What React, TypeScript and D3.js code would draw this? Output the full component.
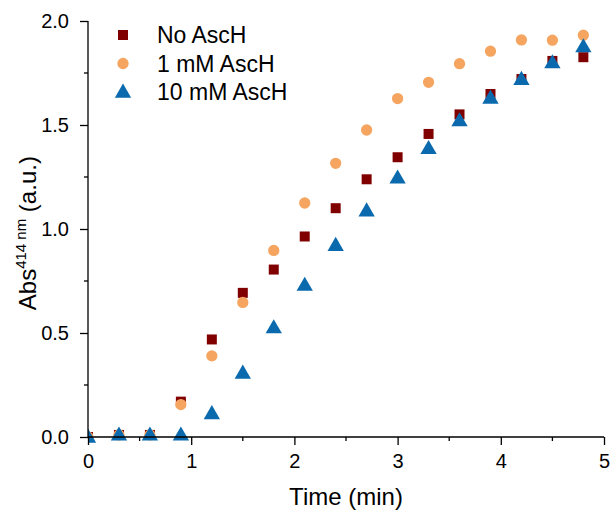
import * as d3 from "d3";
import { useEffect, useRef } from "react";

const times = [0, 0.3, 0.6, 0.9, 1.2, 1.5, 1.8, 2.1, 2.4, 2.7, 3.0, 3.3, 3.6, 3.9, 4.2, 4.5, 4.8];
const noAscH = [0, 0.01, 0.01, 0.17, 0.469, 0.693, 0.805, 0.964, 1.1, 1.239, 1.345, 1.457, 1.551, 1.649, 1.721, 1.808, 1.826];
const asc1mM = [0, 0.01, 0.01, 0.156, 0.39, 0.647, 0.897, 1.125, 1.316, 1.476, 1.627, 1.705, 1.795, 1.855, 1.909, 1.908, 1.932];
const asc10mM = [0, 0.01, 0.01, 0.01, 0.113, 0.308, 0.526, 0.73, 0.922, 1.088, 1.246, 1.388, 1.521, 1.63, 1.72, 1.8, 1.877];

const seriesNames = ["No AscH", "1 mM AscH", "10 mM AscH"];
const seriesColors = ["#800000", "#f5a55f", "#0a6aad"];
const xTicks = [0, 1, 2, 3, 4, 5];
const yTicks = [0, 0.5, 1.0, 1.5, 2.0];

export default function App() {
  const svgRef = useRef(null);
  const width = 614;
  const height = 514;
  const marginLeft = 88;
  const marginRight = 10;
  const marginTop = 21;
  const marginBottom = 77;

  useEffect(() => {
    const svg = d3.select(svgRef.current);
    svg.selectAll("*").remove();

    const x = d3.scaleLinear().domain([0, 5]).range([marginLeft, width - marginRight]);
    const y = d3.scaleLinear().domain([0, 2]).range([height - marginBottom, marginTop]);

    const font = "Arial, 'Liberation Sans', sans-serif";

    svg.append("defs").append("clipPath").attr("id", "plot-clip")
      .append("rect")
      .attr("x", marginLeft)
      .attr("y", 0)
      .attr("width", width - marginLeft)
      .attr("height", height - marginBottom + 10);

    // markers
    const symbols = [d3.symbolSquare, d3.symbolCircle, d3.symbolTriangle];
    const sizes = [100, 100, 115];
    const allSeries = [noAscH, asc1mM, asc10mM];

    const marks = svg.append("g").attr("clip-path", "url(#plot-clip)");
    allSeries.forEach((vals, si) => {
      const sym = d3.symbol().type(symbols[si]).size(sizes[si]);
      marks.append("g")
        .selectAll("path")
        .data(times.map((t, i) => ({ t, v: vals[i] })))
        .enter()
        .append("path")
        .attr("d", sym)
        .attr("transform", d => `translate(${x(d.t)},${y(d.v) + (si === 2 ? 1 : 0)})`)
        .attr("fill", seriesColors[si]);
    });

    // axes
    const xAxis = d3.axisBottom(x).tickValues(xTicks).tickFormat(d3.format("d")).tickSize(8).tickPadding(9);
    const gx = svg.append("g")
      .attr("transform", `translate(0,${height - marginBottom})`)
      .call(xAxis);
    gx.selectAll(".tick line").attr("stroke", "#000").attr("stroke-width", 1.3);
    gx.select(".domain").attr("d", `M${marginLeft},0H${width - marginRight}`).attr("stroke-width", 1.3);
    gx.selectAll("text").attr("font-size", 20).attr("font-family", font).attr("fill", "#000");
    gx.selectAll(".minor")
      .data(d3.range(0.5, 5, 1))
      .enter()
      .append("line")
      .attr("class", "minor")
      .attr("x1", d => x(d)).attr("x2", d => x(d))
      .attr("y1", 0).attr("y2", 4)
      .attr("stroke", "#000").attr("stroke-width", 1.3);

    const yAxis = d3.axisLeft(y).tickValues(yTicks).tickFormat(d3.format(".1f")).tickSize(8).tickPadding(11);
    const gy = svg.append("g")
      .attr("transform", `translate(${marginLeft},0)`)
      .call(yAxis);
    gy.selectAll(".tick line").attr("stroke", "#000").attr("stroke-width", 1.3);
    gy.select(".domain").attr("d", `M0,${height - marginBottom}V${marginTop}`).attr("stroke-width", 1.3);
    gy.selectAll("text").attr("font-size", 20).attr("font-family", font).attr("fill", "#000");
    gy.selectAll(".minor")
      .data(d3.range(0.25, 2, 0.5))
      .enter()
      .append("line")
      .attr("class", "minor")
      .attr("y1", d => y(d)).attr("y2", d => y(d))
      .attr("x1", 0).attr("x2", -4)
      .attr("stroke", "#000").attr("stroke-width", 1.3);

    // axis titles
    svg.append("text")
      .attr("x", x(2.5))
      .attr("y", 505)
      .attr("text-anchor", "middle")
      .attr("font-size", 24)
      .attr("font-family", font)
      .text("Time (min)");

    const yTitle = svg.append("text")
      .attr("transform", `translate(36,${y(0.98)}) rotate(-90)`)
      .attr("text-anchor", "middle")
      .attr("font-size", 24)
      .attr("font-family", font);
    yTitle.append("tspan").text("Abs");
    yTitle.append("tspan").attr("font-size", 15).attr("dy", -10).text("414 nm");
    yTitle.append("tspan").attr("dy", 10).text(" (a.u.)");

    // legend
    const legend = svg.append("g").attr("transform", `translate(123,35)`);
    seriesNames.forEach((name, i) => {
      const row = legend.append("g").attr("transform", `translate(0,${i * 28.5})`);
      row.append("path")
        .attr("d", d3.symbol().type(symbols[i]).size(sizes[i])())
        .attr("transform", i === 2 ? "translate(0,1)" : null)
        .attr("fill", seriesColors[i]);
      row.append("text")
        .attr("x", 34)
        .attr("y", 8)
        .attr("font-size", 23)
        .attr("font-family", font)
        .text(name);
    });
  }, []);

  return (
    <svg
      ref={svgRef}
      width={width}
      height={height}
      style={{ position: "fixed", left: 0, top: 0, display: "block", background: "#fff" }}
    />
  );
}
